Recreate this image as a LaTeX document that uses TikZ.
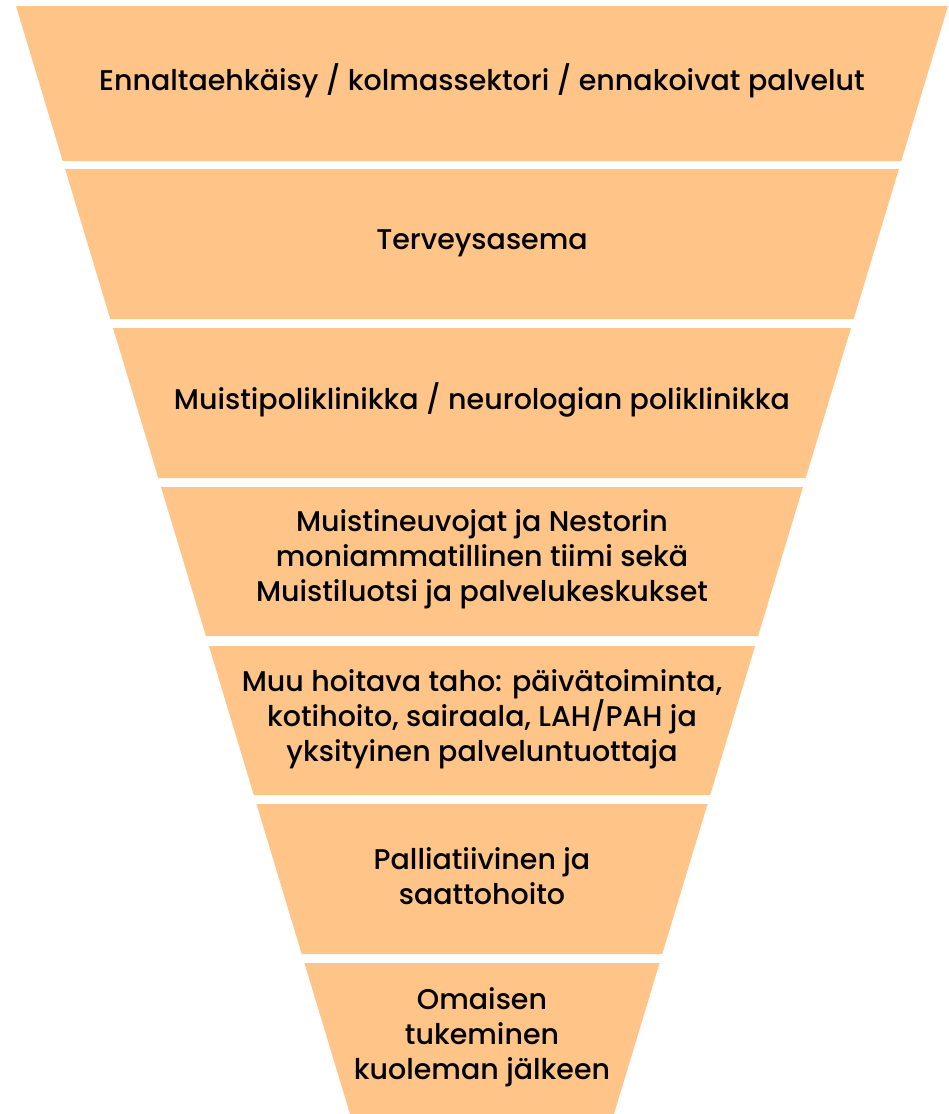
\documentclass[tikz,border=0pt]{standalone}
\usepackage{fontspec}
\setmainfont{Poppins}[UprightFont={* Medium}]
\definecolor{peach}{HTML}{FEC488}
\begin{document}
\begin{tikzpicture}[x=1pt,y=-1pt,
  band/.style={fill=peach,draw=none},
  lbl/.style={align=center,font=\fontsize{28.5}{35}\selectfont,text=black,inner sep=0pt}]
\useasboundingbox (0,0) rectangle (948,1114);
\fill[band] (16,6) -- (948,6) -- (901.3,161) -- (62.7,161) -- cycle;
\fill[band] (65.1,169) -- (898.9,169) -- (853.7,319) -- (110.3,319) -- cycle;
\fill[band] (113.0,328) -- (851.0,328) -- (805.7,478) -- (158.3,478) -- cycle;
\fill[band] (161.0,487) -- (803.0,487) -- (758.1,636) -- (205.9,636) -- cycle;
\fill[band] (208.9,646) -- (755.1,646) -- (710.2,795) -- (253.8,795) -- cycle;
\fill[band] (256.5,804) -- (707.5,804) -- (662.3,954) -- (301.7,954) -- cycle;
\fill[band] (304.4,963) -- (659.6,963) -- (614,1114) -- (350,1114) -- cycle;
\node[lbl] (t1) at (482,81) {Ennaltaehkäisy / kolmassektori / ennakoivat palvelut};
\node[lbl] (t2) at (482,243) {Terveysasema};
\node[lbl] (t3) at (482,400) {Muistipoliklinikka / neurologian poliklinikka};
\node[lbl] (t4) at (482,559) {Muistineuvojat ja Nestorin\\moniammatillinen tiimi sekä\\Muistiluotsi ja palvelukeskukset};
\node[lbl] (t5) at (482,719) {Muu hoitava taho: päivätoiminta,\\kotihoito, sairaala, LAH/PAH ja\\yksityinen palveluntuottaja};
\node[lbl] (t6) at (482,876) {Palliatiivinen ja\\saattohoito};
\node[lbl] (t7) at (482,1037) {Omaisen\\tukeminen\\kuoleman jälkeen};
\end{tikzpicture}
\end{document}
